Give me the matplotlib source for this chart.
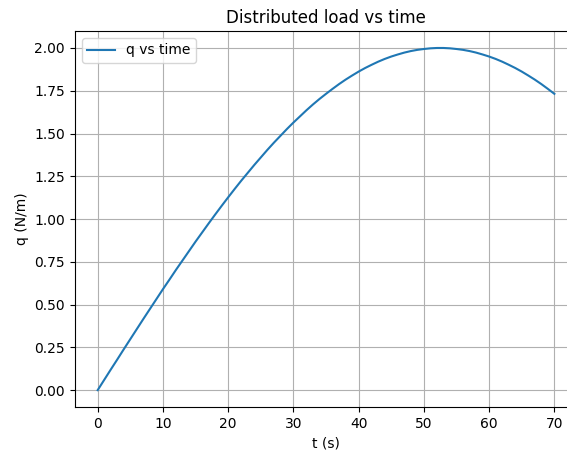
import matplotlib
matplotlib.use("Agg")
import matplotlib.pyplot as plt

# values, one per second
t_s = list(range(0, 71))
q_nm = [0.000, 0.060, 0.120, 0.179, 0.239, 0.298, 0.357, 0.416, 0.474, 0.532,
        0.590, 0.646, 0.703, 0.758, 0.813, 0.868, 0.921, 0.974, 1.026, 1.077,
        1.127, 1.176, 1.224, 1.270, 1.316, 1.360, 1.404, 1.446, 1.486, 1.526,
        1.564, 1.600, 1.636, 1.670, 1.702, 1.732, 1.761, 1.789, 1.815, 1.839,
        1.862, 1.883, 1.902, 1.920, 1.936, 1.950, 1.962, 1.973, 1.982, 1.989,
        1.994, 1.998, 2.000, 2.000, 1.998, 1.994, 1.989, 1.982, 1.973, 1.962,
        1.950, 1.936, 1.920, 1.902, 1.883, 1.862, 1.839, 1.815, 1.789, 1.761,
        1.732]

fig, ax = plt.subplots(figsize=(5.67, 4.54), dpi=100)
# reference is cropped: right spine falls just past the image edge
fig.subplots_adjust(left=0.132, right=1.018, top=0.932, bottom=0.103)
ax.plot(t_s, q_nm, label="q vs time")
ax.set_title("Distributed load vs time")
ax.set_xlabel("t (s)")
ax.set_ylabel("q (N/m)")
ax.grid(True)
ax.legend(loc="upper left")
fig.savefig("out.png", dpi=100)
